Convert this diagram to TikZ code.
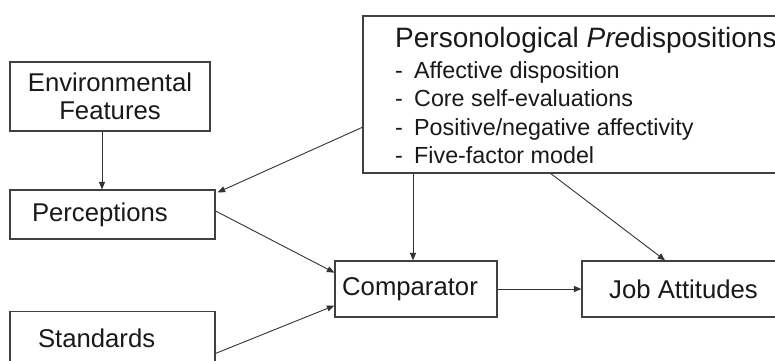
\documentclass[tikz,border=0pt]{standalone}
\usepackage{fontspec}
\setmainfont{Liberation Sans}
\usetikzlibrary{arrows.meta,calc}
\definecolor{boxline}{gray}{0.25}
\definecolor{arrline}{gray}{0.2}
\definecolor{txt}{gray}{0.1}
\begin{document}
\begin{tikzpicture}[x=1pt,y=-1pt,
  box/.style={draw=boxline, line width=1.2pt, inner sep=0pt, text=txt,
              font=\fontsize{25.7}{28}\selectfont, align=center},
  arr/.style={draw=arrline, line width=0.9pt, -{Triangle[length=7.5pt,width=6pt]}},
  ptext/.style={anchor=base west, inner sep=0pt, text=txt},
  item/.style={ptext, font=\fontsize{23.3}{28}\selectfont}]
\useasboundingbox (0,0) rectangle (775,360);
\clip (0,0) rectangle (775,360);
\fill[white] (0,0) rectangle (775,360);
% boxes
\node[box, minimum width=200pt, minimum height=69pt] (env) at (110,96.5) {Environmental\\Features};
\node[box, minimum height=49pt, text width=161pt, inner xsep=22pt, align=left] (perc) at (112.5,214.5) {Perceptions};
\node[box, minimum height=54pt, text width=149pt, inner xsep=28pt, align=left] (std) at (112.5,338.5) {Standards};
\node[box, minimum width=162pt, minimum height=56pt] (comp) at (416,289) {Comparator\hspace{12pt}};
\node[box, minimum width=203pt, minimum height=56pt] (job) at (683.5,289) {Job Attitudes};
\node[box, minimum width=427pt, minimum height=157pt] (pers) at (576.5,94.5) {};
% text of the predispositions box
\node[ptext, font=\fontsize{28}{32}\selectfont] (ptitle) at (395,47) {Personological \textit{Pre}dispositions};
\node[item] (i1) at (395,78) {\makebox[19pt][l]{-}Affective disposition};
\node[item] (i2) at (395,106.5) {\makebox[19pt][l]{-}Core self-evaluations};
\node[item] (i3) at (395,135) {\makebox[19pt][l]{-}Positive/negative affectivity};
\node[item] (i4) at (395,163.5) {\makebox[19pt][l]{-}Five-factor model};
% connectors
\draw[arr] ($(env.south)+(-8,0)$) -- ($(perc.north)+(-10.5,0)$);
\draw[arr] ($(pers.south west)!0.293!(pers.north west)$) -- ($(perc.north east)+(2,3)$);
\draw[arr] ($(perc.south east)!0.57!(perc.north east)$) -- ($(comp.south west)!0.786!(comp.north west)$);
\draw[arr] ($(std.south east)!0.23!(std.north east)$) -- ($(comp.south west)!0.21!(comp.north west)$);
\draw[arr] ($(comp.north |- pers.south)+(-3,0)$) -- ($(comp.north)+(-3,0)$);
\draw[arr] ($(pers.south west)!0.44!(pers.south east)$) -- ($(job.north west)!0.41!(job.north east)$);
\draw[arr] (comp.east) -- (job.west);
\end{tikzpicture}
\end{document}
